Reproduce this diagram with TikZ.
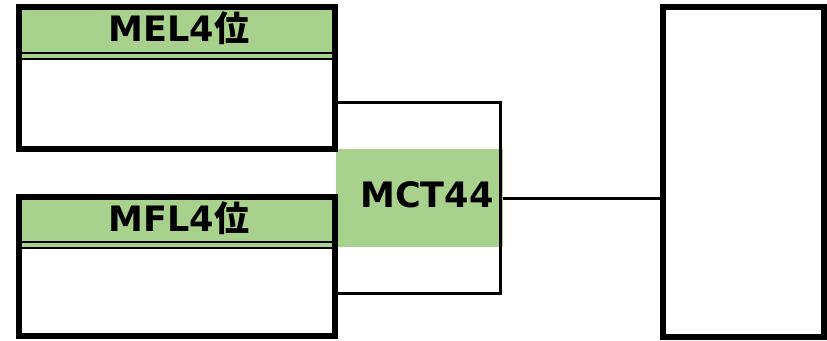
\documentclass[tikz,border=0pt]{standalone}
\usepackage{fontspec}
\setmainfont{DejaVu Sans}
\newfontfamily\jpfont{Noto Sans CJK JP}
\usetikzlibrary{positioning}

\definecolor{cellgreen}{HTML}{a9d18e}

\newcommand{\wei}{{\jpfont\bfseries 位}}

\begin{document}
\begin{tikzpicture}[x=1pt,y=-1pt,
  tablebox/.style={draw, fill=white, line width=6pt, inner sep=0pt},
  headcell/.style={fill=cellgreen, inner sep=0pt, minimum width=310pt, minimum height=49pt},
  celltext/.style={font=\fontsize{35}{40}\selectfont\bfseries, inner sep=0pt}]
  \useasboundingbox (0,0) rectangle (827,340);
  % middle block
  \node[fill=cellgreen, inner sep=0pt, minimum width=167pt, minimum height=98pt] (mct) at (419.5,198) {};
  \draw[line width=3pt] (337,102) -- (500.5,102) -- (500.5,293) -- (337,293);
  \node[celltext] (mcttext) at (427,195) {MCT44};
  % left tables
  \node[tablebox, minimum width=316pt, minimum height=142pt] (mel) at (177,78) {};
  \node[headcell] (melhead) at (177,34.5) {};
  \draw[line width=2pt] (22,53) -- (332,53);
  \draw[line width=2pt] (22,58.5) -- (332,58.5);
  \node[celltext] (meltext) at (179,28) {MEL4\wei};
  \node[tablebox, minimum width=316pt, minimum height=139pt] (mfl) at (177,266.5) {};
  \node[headcell] (mflhead) at (177,224) {};
  \draw[line width=2pt] (22,242) -- (332,242);
  \draw[line width=2pt] (22,247.5) -- (332,247.5);
  \node[celltext] (mfltext) at (179,218) {MFL4\wei};
  % right table
  \node[tablebox, minimum width=161pt, minimum height=330pt] (out) at (743.5,172) {};
  \draw[line width=3pt] (mct.east) -- (mct.east -| out.west);
\end{tikzpicture}
\end{document}
